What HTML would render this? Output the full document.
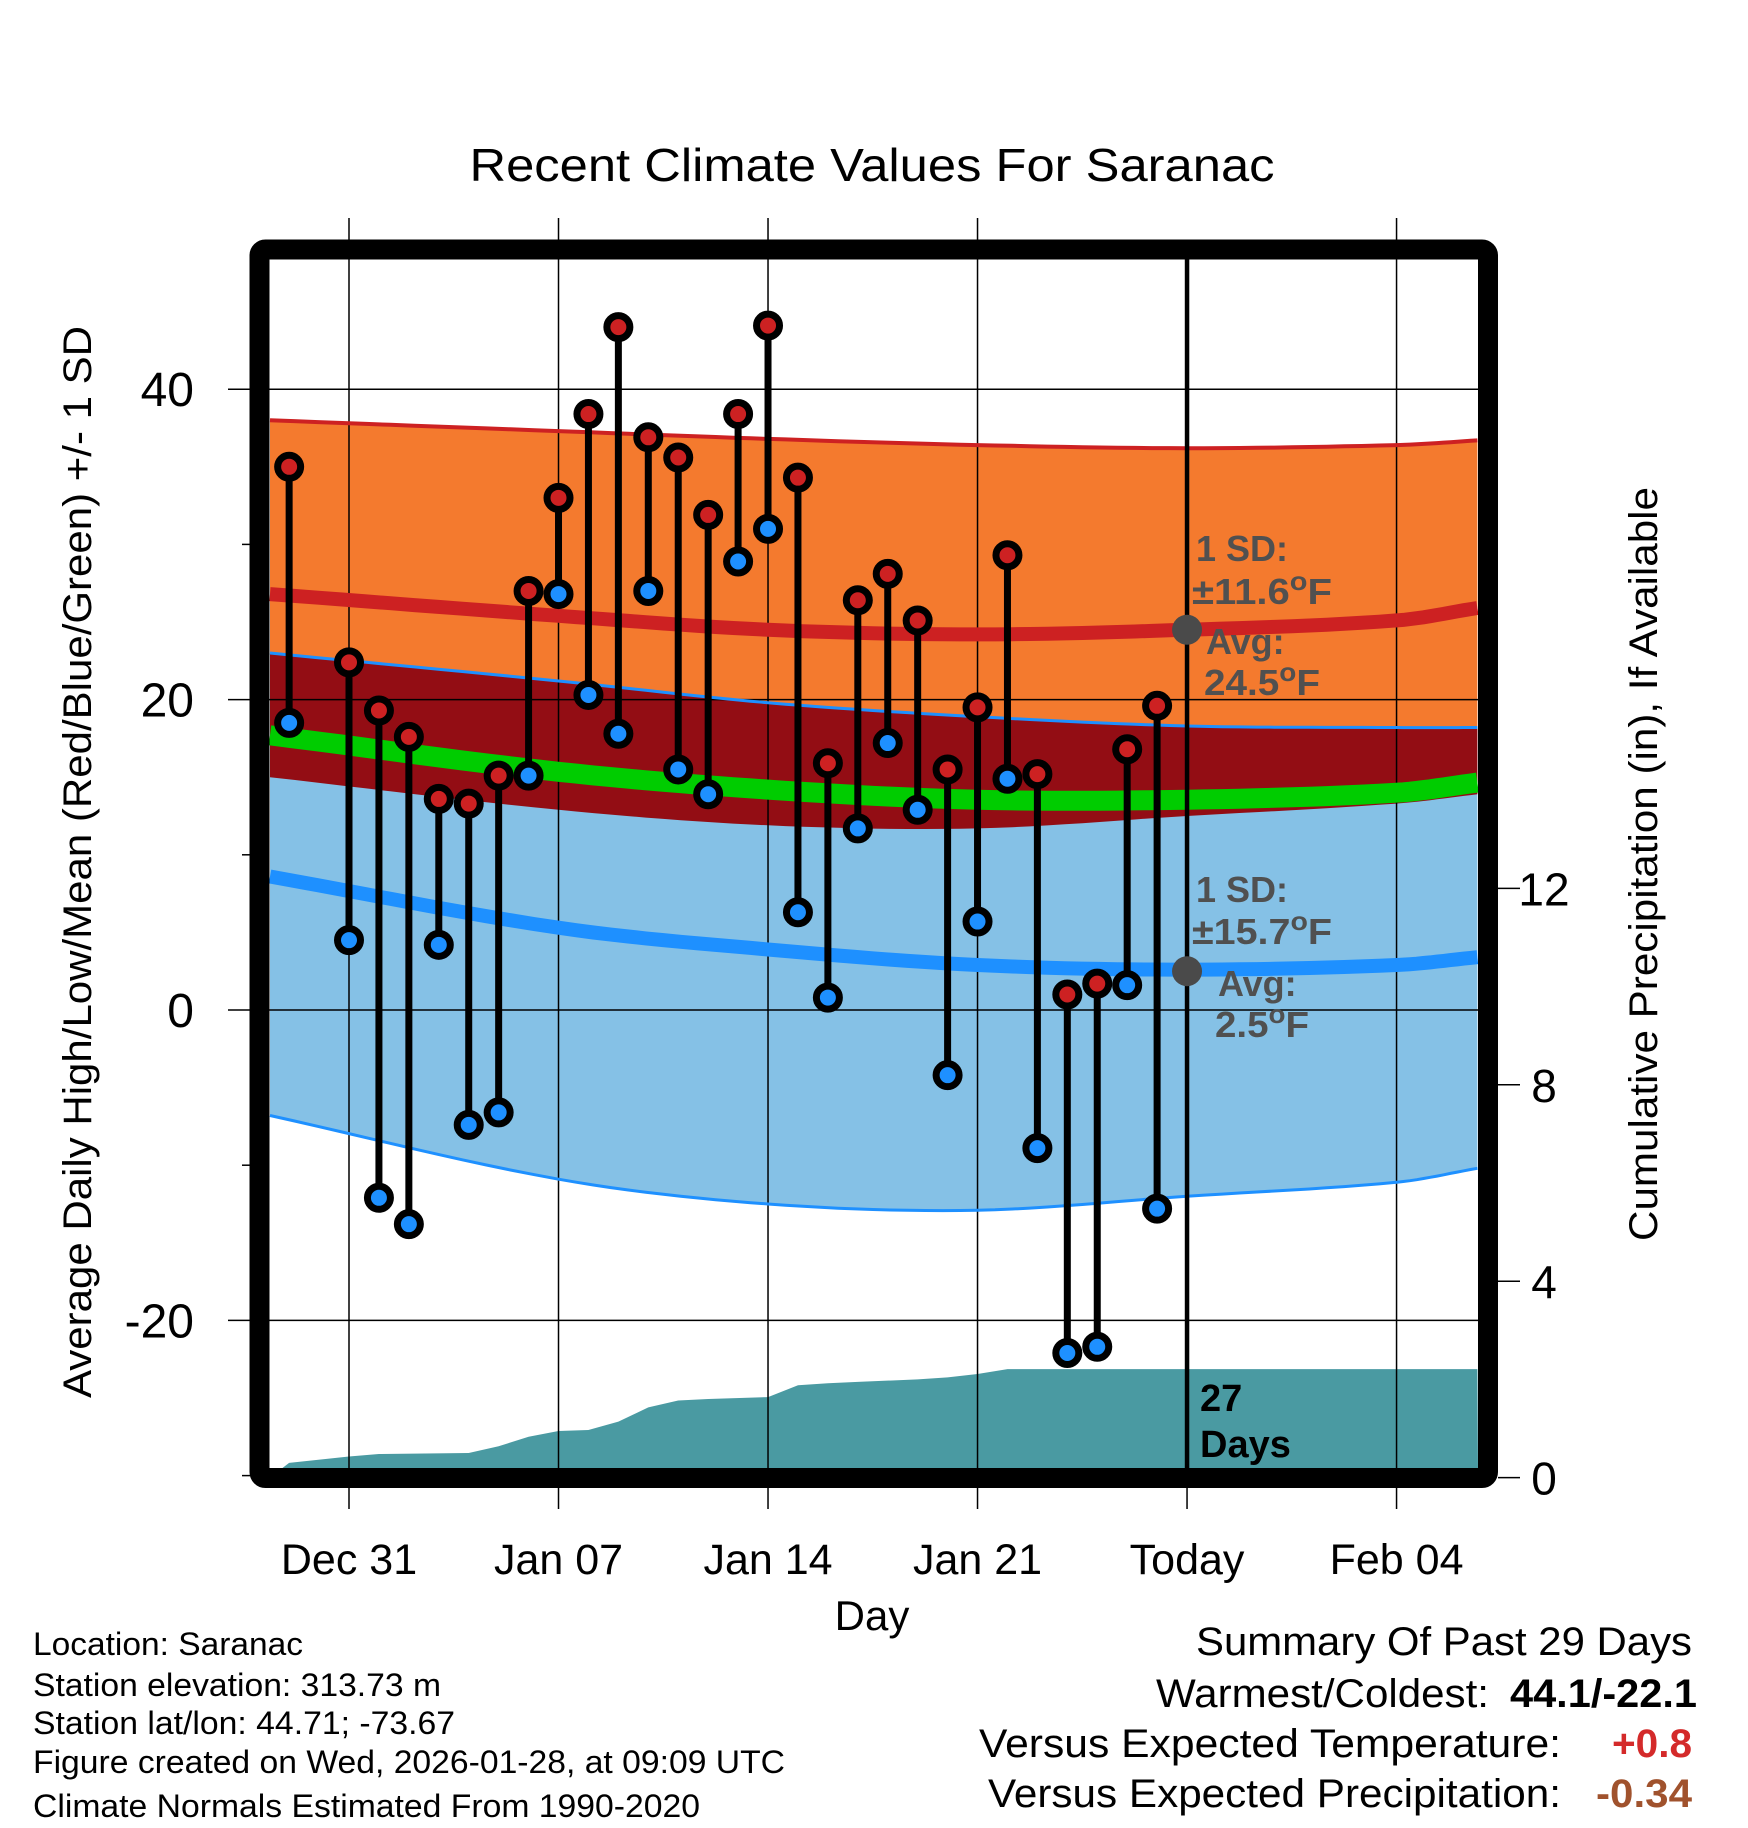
<!DOCTYPE html>
<html><head><meta charset="utf-8"><style>
html,body{margin:0;padding:0;background:#fff}
svg{display:block;font-family:"Liberation Sans",Arial,sans-serif}
</style></head><body>
<svg id="chart" width="1748" height="1828" viewBox="0 0 1748 1828" xmlns="http://www.w3.org/2000/svg">
<g id="fills"></g><g id="grid"></g><g id="lines"></g><g id="marks"></g><g id="overlay"></g>
</svg>
<script>
// ---- data ----
const obsDays = [-2,0,1,2,3,4,5,6,7,8,9,10,11,12,13,14,15,16,17,18,19,20,21,22,23,24,25,26,27];
const highs = [35.0,22.4,19.3,17.6,13.6,13.3,15.1,27.0,33.0,38.4,44.0,36.9,35.6,31.9,38.4,44.1,34.3,15.9,26.4,28.1,25.1,15.5,19.5,29.3,15.2,1.0,1.7,16.8,19.6];
const lows = [18.5,4.5,-12.1,-13.8,4.2,-7.4,-6.6,15.1,26.8,20.3,17.8,27.0,15.5,13.9,28.9,31.0,6.3,0.8,11.7,17.2,12.9,-4.2,5.7,14.9,-8.9,-22.1,-21.7,1.6,-12.8];
const normDays = [-2.64,7,14,21,28,35,37.7];
const hiUpper = [38.0,37.3,36.8,36.4,36.2,36.4,36.7];
const hiMean = [26.8,25.4,24.5,24.2,24.5,25.1,25.9];
const hiLower = [15.0,12.9,11.9,11.7,12.5,13.3,13.9];
const loUpper = [23.0,21.2,19.8,18.9,18.3,18.2,18.2];
const loMean = [8.6,5.3,3.9,2.9,2.6,2.9,3.4];
const loLower = [-6.8,-10.9,-12.5,-12.9,-12.0,-11.1,-10.2];
const precipDays = [-2.64,-2,0,1,4,5,6,7,8,9,10,11,12,14,15,16,17,19,20,21,22,23,28,37.7];
const precipVals = [0.0,0.3,0.43,0.48,0.5,0.64,0.83,0.95,0.97,1.14,1.43,1.57,1.6,1.64,1.88,1.92,1.95,2.0,2.04,2.11,2.21,2.21,2.21,2.21];
const tempTicks = [40,20,0,-20];
const minorTicks = [30,10,-10,-30];
const precipTicks = [0,4,8,12];
const dateTickDays = [0,7,14,21,28,35];
const dateTickLabels = ["Dec 31","Jan 07","Jan 14","Jan 21","Today","Feb 04"];
const todayDay = 28;
const hiAvg = 24.5, loAvg = 2.5;

// ---- scales ----
const X0=270,X1=1478,Y0=260,Y1=1468;
const xs = d => 349 + d*29.93;
const ys = v => 1010 - v*15.52;
const yp = p => 1477.6 - p*49.1;
const NS="http://www.w3.org/2000/svg";
function mk(tag, parent, attrs){const e=document.createElementNS(NS,tag);for(const k in attrs)e.setAttribute(k,attrs[k]);document.getElementById(parent).appendChild(e);return e;}
// smooth interpolation (Catmull-Rom) sampled densely
function smooth(vals){
  const out=[];const n=normDays.length;
  for(let i=0;i<n-1;i++){
    const d0=normDays[Math.max(i-1,0)],d1=normDays[i],d2=normDays[i+1],d3=normDays[Math.min(i+2,n-1)];
    const v0=vals[Math.max(i-1,0)],v1=vals[i],v2=vals[i+1],v3=vals[Math.min(i+2,n-1)];
    const m1=(v2-v0)/((d2-d0)||1)*(d2-d1), m2=(v3-v1)/((d3-d1)||1)*(d2-d1);
    for(let k=0;k<12;k++){
      const t=k/12,t2=t*t,t3=t2*t;
      const v=(2*t3-3*t2+1)*v1+(t3-2*t2+t)*m1+(-2*t3+3*t2)*v2+(t3-t2)*m2;
      out.push([d1+(d2-d1)*t,v]);
    }
  }
  out.push([normDays[n-1],vals[n-1]]);
  return out;
}
const spts=vals=>smooth(vals).map(p=>xs(p[0]).toFixed(1)+","+ys(p[1]).toFixed(1));
const band=(up,lo)=>spts(up).concat(spts(lo).reverse()).join(" ");

let e;
e=mk("polygon","fills",{points:band(hiUpper,hiLower),fill:"#F47A2E"});


e=mk("polygon","fills",{points:band(loUpper,loLower),fill:"#85C1E6"});


e=mk("polygon","fills",{points:band(loUpper,hiLower),fill:"#930D14"});


let pp=precipDays.map((d,i)=>xs(d).toFixed(1)+","+yp(precipVals[i]).toFixed(1));
pp.push(X1+","+Y1, X0+","+Y1);
e=mk("polygon","fills",{points:pp.join(" "),fill:"#4A9AA2"});



tempTicks.forEach(v=>{
 e=mk("line","grid",{x1:228,x2:X1,y1:ys(v),y2:ys(v),stroke:"#000","stroke-width":1.5});
 
 
 e=mk("text","grid",{x:194,y:ys(v)+17,"text-anchor":"end","font-size":48});
 e.textContent=v;
 
 
});
minorTicks.forEach(v=>{
 e=mk("line","grid",{x1:242,x2:256,y1:ys(v),y2:ys(v),stroke:"#000","stroke-width":1.5});
 
 
});
dateTickDays.forEach((d,i)=>{
 if(d!==todayDay){
  e=mk("line","grid",{x1:xs(d),x2:xs(d),y1:218,y2:1509,stroke:"#000","stroke-width":1.5});
  
  
 } else {
  e=mk("line","grid",{x1:xs(d),x2:xs(d),y1:1478,y2:1509,stroke:"#000","stroke-width":1.5});
  
  
 }
 e=mk("text","grid",{x:xs(d),y:1574,"text-anchor":"middle","font-size":43});
 e.textContent=dateTickLabels[i];
 
 
});
precipTicks.forEach(p=>{
 e=mk("line","grid",{x1:1498,x2:1520,y1:yp(p),y2:yp(p),stroke:"#000","stroke-width":1.5});
 
 
 e=mk("text","grid",{x:1544,y:yp(p)+17,"text-anchor":"middle","font-size":46});
 e.textContent=p;
 
 
});

const meanAvg = hiMean.map((v,i)=>(v+loMean[i])/2);
function pl(vals,col,w,name){
 const el=mk("polyline","lines",{points:spts(vals).join(" "),fill:"none",stroke:col,"stroke-width":w});
 
 
}
pl(hiUpper,"#CD2122",4,"high-upper-line");
pl(loUpper,"#1E90FF",3,"low-upper-line");
pl(loLower,"#1E90FF",3,"low-lower-line");
pl(meanAvg,"#00CC00",20,"mean-line");
pl(hiMean,"#CD2122",14,"normal-high-line");
pl(loMean,"#1E90FF",14,"normal-low-line");
e=mk("line","lines",{x1:xs(todayDay),x2:xs(todayDay),y1:255,y2:1470,stroke:"#000","stroke-width":4.5});



obsDays.forEach((d,i)=>{
 const x=xs(d);
 e=mk("line","marks",{x1:x,x2:x,y1:ys(highs[i]),y2:ys(lows[i]),stroke:"#000","stroke-width":7});
 
 
 e=mk("circle","marks",{cx:x,cy:ys(highs[i]),r:11.5,fill:"#CD2122",stroke:"#000","stroke-width":7});
 
 
 e=mk("circle","marks",{cx:x,cy:ys(lows[i]),r:11.5,fill:"#1E90FF",stroke:"#000","stroke-width":7});
 
 
});
e=mk("circle","marks",{cx:xs(todayDay),cy:ys(hiAvg),r:15,fill:"#4a4a4a"});


e=mk("circle","marks",{cx:xs(todayDay),cy:ys(loAvg),r:15,fill:"#4a4a4a"});


</script>
<script>
(function(){
const o=document.getElementById("overlay");
o.innerHTML = `
<rect x="259.5" y="249.5" width="1228.5" height="1228.5" rx="6" fill="none" stroke="#000" stroke-width="20"/>
<text x="872" y="181" text-anchor="middle" font-size="46" textLength="805" lengthAdjust="spacingAndGlyphs">Recent Climate Values For Saranac</text>
<text transform="translate(91,862) rotate(-90)" text-anchor="middle" font-size="40" textLength="1072" lengthAdjust="spacingAndGlyphs">Average Daily High/Low/Mean (Red/Blue/Green) +/- 1 SD</text>
<text transform="translate(1657,864) rotate(-90)" text-anchor="middle" font-size="40" textLength="754" lengthAdjust="spacingAndGlyphs">Cumulative Precipitation (in), If Available</text>
<text x="872" y="1630" text-anchor="middle" font-size="42">Day</text>
<g font-weight="bold" font-size="36" fill="#505050">
<text x="1196" y="561">1 SD:</text>
<text x="1192" y="604" textLength="140" lengthAdjust="spacingAndGlyphs">±11.6<tspan font-size="26" dy="-14">o</tspan><tspan dy="14">F</tspan></text>
<text x="1206" y="654">Avg:</text>
<text x="1204" y="695" textLength="116" lengthAdjust="spacingAndGlyphs">24.5<tspan font-size="26" dy="-14">o</tspan><tspan dy="14">F</tspan></text>
</g>
<g font-weight="bold" font-size="36" fill="#505050">
<text x="1196" y="902">1 SD:</text>
<text x="1192" y="944" textLength="140" lengthAdjust="spacingAndGlyphs">±15.7<tspan font-size="26" dy="-14">o</tspan><tspan dy="14">F</tspan></text>
<text x="1218" y="996">Avg:</text>
<text x="1215" y="1037" textLength="94" lengthAdjust="spacingAndGlyphs">2.5<tspan font-size="26" dy="-14">o</tspan><tspan dy="14">F</tspan></text>
</g>
<g font-weight="bold" font-size="38" fill="#000">
<text x="1200" y="1411">27</text>
<text x="1200" y="1457">Days</text>
</g>
<g font-size="32">
<text x="33" y="1655" textLength="270" lengthAdjust="spacingAndGlyphs">Location: Saranac</text>
<text x="33" y="1696" textLength="408" lengthAdjust="spacingAndGlyphs">Station elevation: 313.73 m</text>
<text x="33" y="1734" textLength="422" lengthAdjust="spacingAndGlyphs">Station lat/lon: 44.71; -73.67</text>
<text x="33" y="1773" textLength="752" lengthAdjust="spacingAndGlyphs">Figure created on Wed, 2026-01-28, at 09:09 UTC</text>
<text x="33" y="1817" textLength="667" lengthAdjust="spacingAndGlyphs">Climate Normals Estimated From 1990-2020</text>
</g>
<g font-size="40">
<text x="1196" y="1655" textLength="496" lengthAdjust="spacingAndGlyphs">Summary Of Past 29 Days</text>
<text x="1156" y="1707" textLength="333" lengthAdjust="spacingAndGlyphs">Warmest/Coldest:</text>
<text x="1510" y="1707" font-weight="bold" textLength="187" lengthAdjust="spacingAndGlyphs">44.1/-22.1</text>
<text x="979" y="1757" textLength="582" lengthAdjust="spacingAndGlyphs">Versus Expected Temperature:</text>
<text x="1612" y="1757" font-weight="bold" fill="#D42A2A" textLength="80" lengthAdjust="spacingAndGlyphs">+0.8</text>
<text x="988" y="1807" textLength="573" lengthAdjust="spacingAndGlyphs">Versus Expected Precipitation:</text>
<text x="1596" y="1807" font-weight="bold" fill="#A0522D" textLength="96" lengthAdjust="spacingAndGlyphs">-0.34</text>
</g>`;
})();
</script>
</body></html>
